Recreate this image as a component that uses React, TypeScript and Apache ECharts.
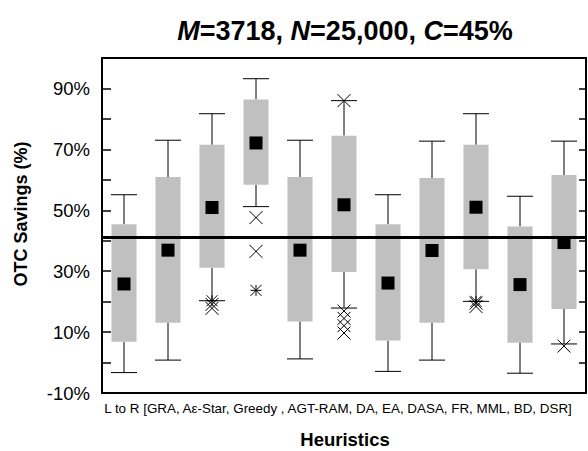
import React, { useEffect, useRef } from 'react';
import * as echarts from 'echarts';

const categories = ['GRA', 'Aε-Star', 'Greedy', 'AGT-RAM', 'DA', 'EA', 'DASA', 'FR', 'MML', 'BD', 'DSR'];
const whiskerLow = [-3.3, 0.8, 20.3, 51.2, 1.2, 17.9, -2.9, 0.8, 20.1, -3.5, 6.1];
const quartile1 = [6.8, 13.1, 31.1, 58.4, 13.5, 29.7, 7.2, 13.1, 30.6, 6.5, 17.6];
const quartile3 = [45.4, 60.9, 71.5, 86.4, 60.9, 74.5, 45.4, 60.6, 71.5, 44.7, 61.6];
const whiskerHigh = [55.1, 73.0, 81.7, 93.2, 73.0, 86.0, 55.1, 72.7, 81.7, 54.6, 72.7];
const means = [25.8, 36.9, 50.9, 72.1, 36.9, 51.8, 26.1, 36.8, 51.0, 25.6, 39.4];
// [category index, value]
const outliersCross = [
  [2, 19.1], [2, 17.8], [3, 47.6], [3, 36.5], [5, 86.0], [5, 16.9], [5, 14.5], [5, 12.1], [5, 9.7],
  [8, 19.5], [8, 18.4], [10, 5.4],
];
const outliersStar = [[2, 20.3], [3, 23.7], [8, 20.1]];
const referenceValue = 41.2;
const yTickLabels = [-10, 10, 30, 50, 70, 90];
const xCaption = 'L to R [GRA, Aε-Star, Greedy , AGT-RAM, DA, EA, DASA, FR, MML, BD, DSR]';
const xTitle = 'Heuristics';
const yTitle = 'OTC Savings (%)';

const FONT = '"Liberation Sans", Arial, Helvetica, sans-serif';

export default function App() {
  const ref = useRef<HTMLDivElement>(null);
  useEffect(() => {
    const chart = echarts.init(ref.current!, null, { renderer: 'svg' });
    const boxData = categories.map((_, i) => [i, whiskerLow[i], quartile1[i], quartile3[i], whiskerHigh[i]]);
    const meanData = categories.map((_, i) => [i, means[i]]);
    const axisLineStyle = { color: '#000', width: 2 };
    const tickStyle = { color: '#000', width: 1.5 };
    chart.setOption({
      animation: false,
      backgroundColor: '#fff',
      grid: { left: 102, right: 2, top: 58, bottom: 58 },
      graphic: [
        {
          type: 'text', x: 345, y: 31,
          style: {
            text: '{i|M}=3718, {i|N}=25,000, {i|C}=45%',
            textAlign: 'center', textVerticalAlign: 'middle',
            fontFamily: FONT, fontSize: 27, fontWeight: 'bold', fill: '#000',
            rich: { i: { fontStyle: 'italic', fontWeight: 'bold', fontSize: 27, fontFamily: FONT, fill: '#000' } },
          },
        },
        {
          type: 'text', x: 338, y: 408,
          style: { text: xCaption, textAlign: 'center', textVerticalAlign: 'middle', fontFamily: FONT, fontSize: 13.4, fill: '#000' },
        },
        {
          type: 'text', x: 345, y: 439,
          style: { text: xTitle, textAlign: 'center', textVerticalAlign: 'middle', fontFamily: FONT, fontSize: 18.5, fontWeight: 'bold', fill: '#000' },
        },
        {
          type: 'text', x: 21, y: 214, rotation: Math.PI / 2,
          style: { text: yTitle, textAlign: 'center', textVerticalAlign: 'middle', fontFamily: FONT, fontSize: 18, fontWeight: 'bold', fill: '#000' },
        },
      ],
      xAxis: [
        {
          type: 'category', data: categories, position: 'bottom', boundaryGap: true,
          axisLine: { onZero: false, lineStyle: axisLineStyle },
          axisTick: { inside: true, length: 9, lineStyle: tickStyle, interval: 0 },
          axisLabel: { show: false }, splitLine: { show: false },
        },
        {
          type: 'category', data: categories, position: 'top', boundaryGap: true,
          axisLine: { onZero: false, lineStyle: axisLineStyle },
          axisTick: { inside: true, length: 9, lineStyle: tickStyle, interval: 0 },
          axisLabel: { show: false }, splitLine: { show: false },
        },
      ],
      yAxis: [
        {
          type: 'value', min: -10, max: 100, interval: 10, position: 'left',
          axisLine: { show: true, onZero: false, lineStyle: axisLineStyle },
          axisTick: { show: true, inside: true, length: 9, lineStyle: tickStyle },
          axisLabel: {
            formatter: (v: number) => (yTickLabels.includes(Math.round(v)) ? `${Math.round(v)}%` : ''),
            color: '#000', fontFamily: FONT, fontSize: 18.5, margin: 12,
          },
          splitLine: { show: false },
        },
        {
          type: 'value', min: -10, max: 100, interval: 10, position: 'right',
          axisLine: { show: true, onZero: false, lineStyle: axisLineStyle },
          axisTick: { show: true, inside: true, length: 7, lineStyle: tickStyle },
          axisLabel: { show: false }, splitLine: { show: false },
        },
      ],
      series: [
        {
          type: 'custom',
          xAxisIndex: 0, yAxisIndex: 0,
          data: boxData,
          encode: { x: 0, y: [1, 2, 3, 4] },
          renderItem: (params: any, api: any) => {
            const i = api.value(0);
            const lo = api.coord([i, api.value(1)]);
            const b1 = api.coord([i, api.value(2)]);
            const b3 = api.coord([i, api.value(3)]);
            const hi = api.coord([i, api.value(4)]);
            const band = api.size([1, 0])[0];
            const w = band * 0.57;
            const cw = w + 1;
            const x = lo[0];
            const ls = { stroke: '#000', lineWidth: 1 };
            return {
              type: 'group',
              children: [
                { type: 'line', shape: { x1: x, y1: hi[1], x2: x, y2: b3[1] }, style: ls },
                { type: 'line', shape: { x1: x, y1: lo[1], x2: x, y2: b1[1] }, style: ls },
                { type: 'line', shape: { x1: x - cw / 2, y1: hi[1], x2: x + cw / 2, y2: hi[1] }, style: ls },
                { type: 'line', shape: { x1: x - cw / 2, y1: lo[1], x2: x + cw / 2, y2: lo[1] }, style: ls },
                { type: 'rect', shape: { x: x - w / 2, y: b3[1], width: w, height: b1[1] - b3[1] }, style: { fill: '#c0c0c0' } },
              ],
            };
          },
          z: 2,
        },
        {
          type: 'scatter',
          xAxisIndex: 0, yAxisIndex: 0,
          data: meanData,
          symbol: 'rect', symbolSize: 13,
          itemStyle: { color: '#000', opacity: 1 },
          z: 4,
          markLine: {
            silent: true, symbol: 'none', label: { show: false },
            lineStyle: { color: '#000', width: 3, type: 'solid', opacity: 1 },
            data: [{ yAxis: referenceValue }],
            z: 3,
          },
        },
        {
          type: 'scatter',
          xAxisIndex: 0, yAxisIndex: 0,
          data: outliersCross,
          symbol: 'path://M0,0L10,10M10,0L0,10',
          symbolSize: 13,
          itemStyle: { color: 'rgba(0,0,0,0)', borderColor: '#000', borderWidth: 1, opacity: 1 },
          z: 5,
        },
        {
          type: 'scatter',
          xAxisIndex: 0, yAxisIndex: 0,
          data: outliersStar,
          symbol: 'path://M0,0L10,10M10,0L0,10M5,0L5,10M0,5L10,5',
          symbolSize: 11,
          itemStyle: { color: 'rgba(0,0,0,0)', borderColor: '#000', borderWidth: 1, opacity: 1 },
          z: 5,
        },
      ],
    });
    return () => chart.dispose();
  }, []);
  return <div ref={ref} style={{ position: 'fixed', left: 0, top: 0, width: 588, height: 451 }} />;
}
